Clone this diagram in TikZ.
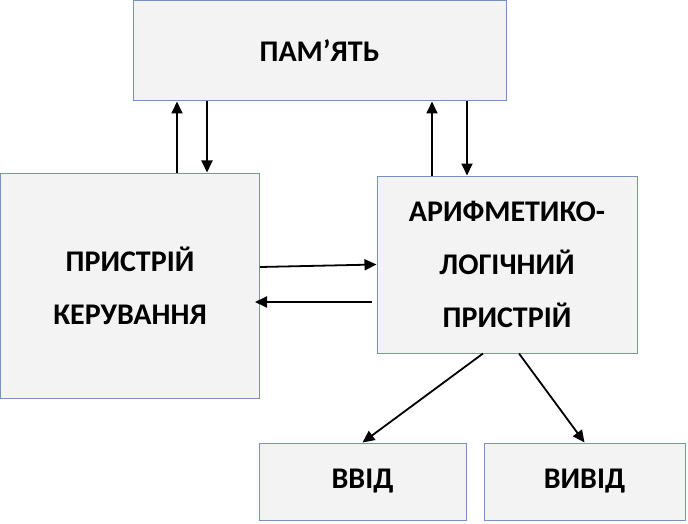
\documentclass[tikz,border=0pt]{standalone}
\usepackage{fontspec}
\setmainfont{Carlito}
\usetikzlibrary{arrows.meta}
\definecolor{boxline}{RGB}{120,145,195}
\definecolor{boxfill}{RGB}{243,243,243}

\begin{document}
\begin{tikzpicture}[x=1pt,y=-1pt,>={Triangle[length=12pt,width=11pt]},line width=1.8pt,
  block/.style={draw=boxline,fill=boxfill,line width=1pt,align=center,inner sep=0pt,
    font=\fontsize{30}{53}\selectfont\bfseries}]
\useasboundingbox (0,0) rectangle (688,524);

\node[block,minimum width=373pt,minimum height=100pt] (mem) at (319.5,51) {ПАМ’ЯТЬ};
\node[block,minimum width=259pt,minimum height=225pt] (cu) at (130,285.5) {ПРИСТРІЙ\\КЕРУВАННЯ};
\node[block,minimum width=260pt,minimum height=177pt] (alu) at (507,264.5) {АРИФМЕТИКО-\\ЛОГІЧНИЙ\\ПРИСТРІЙ};
\node[block,minimum width=207pt,minimum height=77pt] (inp) at (362.5,481.5) {ВВІД};
\node[block,minimum width=201pt,minimum height=77pt] (outp) at (584.5,481.5) {ВИВІД};

% memory <-> control unit
\draw[->] ([xshift=47pt]cu.north) -- ([xshift=47pt]cu.north |- mem.south);
\draw[->] ([xshift=77pt]cu.north |- mem.south) -- ([xshift=77pt]cu.north);
% memory <-> alu
\draw[->] ([xshift=-75pt]alu.north) -- ([xshift=-75pt]alu.north |- mem.south);
\draw[->] ([xshift=-40pt]alu.north |- mem.south) -- ([xshift=-40pt]alu.north);
% control unit <-> alu
\draw[->] ([yshift=18.5pt]cu.east) -- (alu.west);
\draw[->] ([xshift=-5pt,yshift=-37.5pt]alu.west) -- ([xshift=-5pt,yshift=-37.5pt]alu.west -| cu.east);
% alu -> input / output
\draw[->] ([xshift=-24pt]alu.south) -- (inp.north);
\draw[->] ([xshift=12pt]alu.south) -- (outp.north);
\end{tikzpicture}
\end{document}
